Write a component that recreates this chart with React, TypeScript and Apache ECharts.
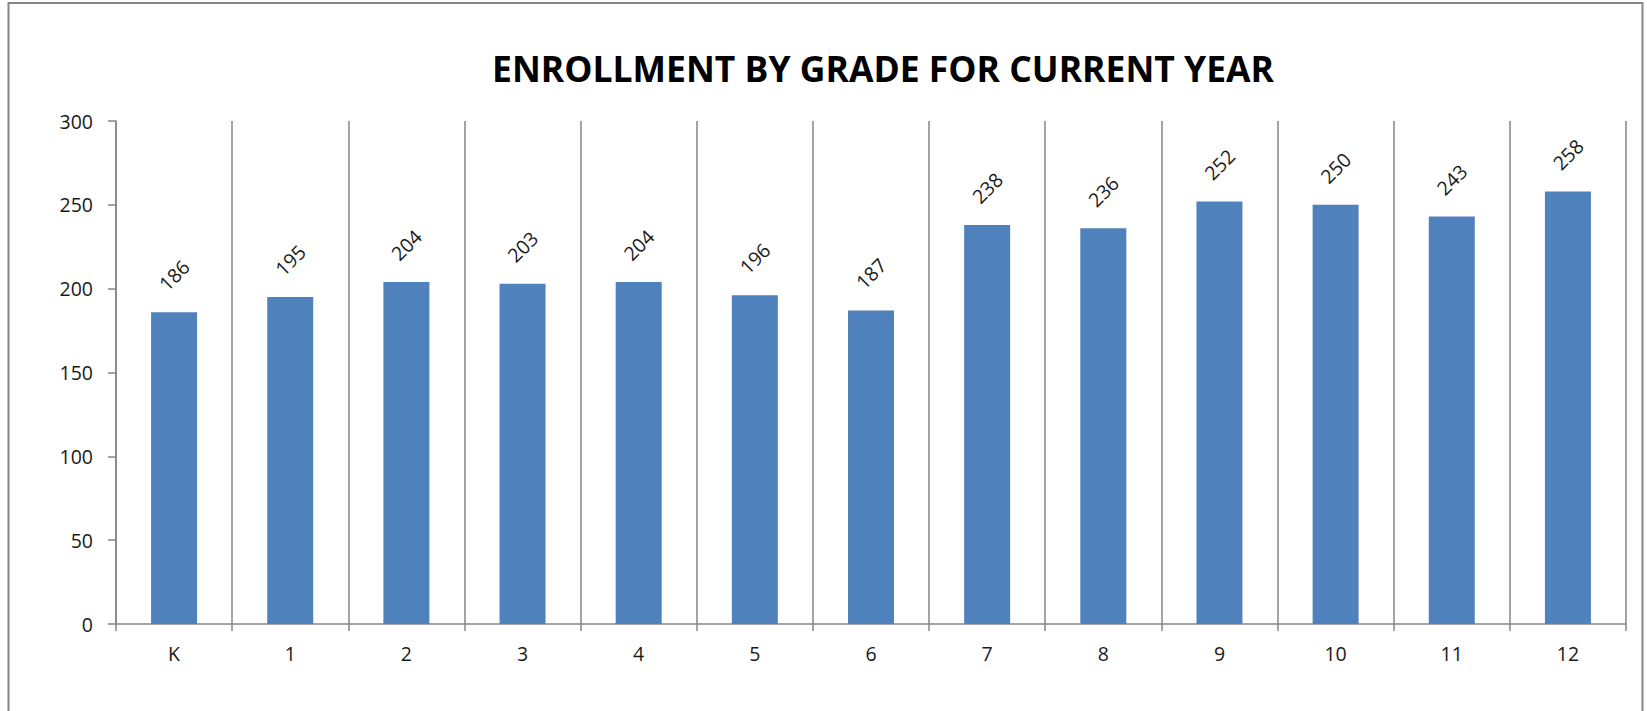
import React, { useEffect, useRef } from "react";
import * as echarts from "echarts";

const TITLE = "ENROLLMENT BY GRADE FOR CURRENT YEAR";
const grades = ["K", "1", "2", "3", "4", "5", "6", "7", "8", "9", "10", "11", "12"];
const enrollment = [186, 195, 204, 203, 204, 196, 187, 238, 236, 252, 250, 243, 258];
const yMin = 0;
const yMax = 300;
const yStep = 50;

const FONT = "'Open Sans', 'Liberation Sans', sans-serif";
const GRAY = "#868686";

export default function App() {
  const ref = useRef<HTMLDivElement>(null);
  useEffect(() => {
    if (!ref.current) return;
    const chart = echarts.init(ref.current, undefined, { renderer: "svg" });
    chart.setOption({
      animation: false,
      backgroundColor: "#ffffff",
      title: {
        text: TITLE,
        left: 878,
        top: 45,
        textAlign: "center",
        textStyle: { fontFamily: FONT, fontWeight: "bold", fontSize: 35.5, color: "#000" },
      },
      graphic: [
        {
          type: "rect",
          shape: { x: 8.5, y: 3, width: 1634, height: 760 },
          style: { fill: "none", stroke: GRAY, lineWidth: 2 },
          silent: true,
        },
      ],
      grid: { left: 116, right: 21, top: 121, bottom: 87, containLabel: false },
      xAxis: {
        type: "category",
        data: grades,
        boundaryGap: true,
        axisLine: { show: true, lineStyle: { color: GRAY, width: 1.5 } },
        axisTick: { show: true, alignWithLabel: false, length: 7, lineStyle: { color: GRAY, width: 1.5 } },
        splitLine: { show: true, lineStyle: { color: GRAY, width: 1.5 } },
        axisLabel: { fontFamily: FONT, fontSize: 19.5, color: "#1a1a1a", margin: 19 },
      },
      yAxis: {
        type: "value",
        min: yMin,
        max: yMax,
        interval: yStep,
        axisLine: { show: true, lineStyle: { color: GRAY, width: 1.5 } },
        axisTick: { show: true, length: 8, lineStyle: { color: GRAY, width: 1.5 } },
        splitLine: { show: false },
        axisLabel: { fontFamily: FONT, fontSize: 19.5, color: "#1a1a1a", margin: 23 },
      },
      series: [
        {
          type: "bar",
          data: enrollment,
          barWidth: 46,
          itemStyle: { color: "#4F81BD" },
          label: {
            show: true,
            position: "top",
            distance: 37,
            rotate: 45,
            align: "center",
            verticalAlign: "middle",
            fontFamily: FONT,
            fontSize: 19.5,
            color: "#1a1a1a",
          },
        },
      ],
    });
    return () => chart.dispose();
  }, []);
  return (
    <div
      ref={ref}
      style={{ position: "fixed", left: 0, top: 0, width: 1647, height: 711, overflow: "hidden", background: "#fff" }}
    />
  );
}
